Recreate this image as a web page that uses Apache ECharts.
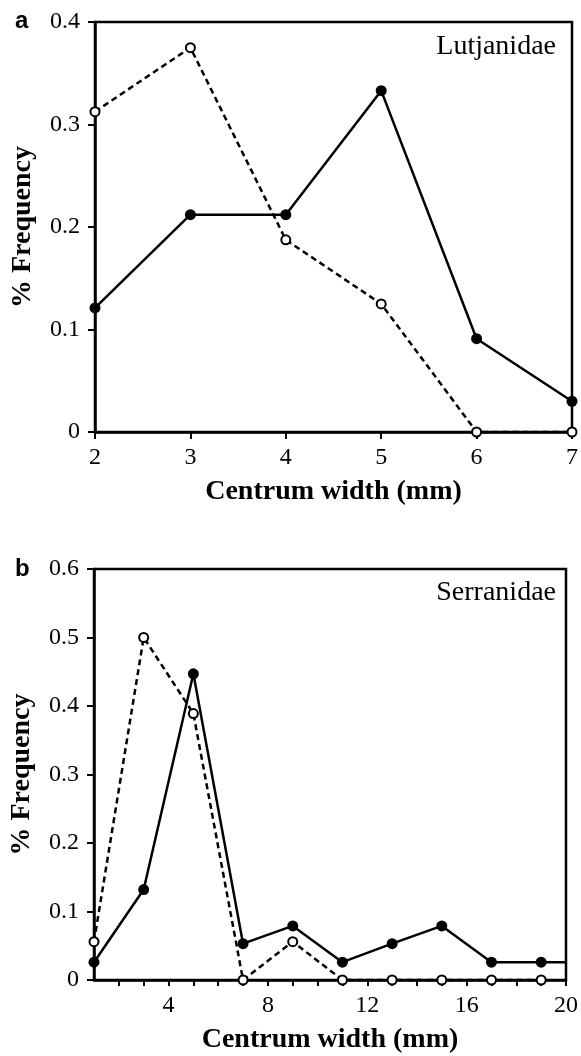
<!DOCTYPE html>
<html>
<head>
<meta charset="utf-8">
<script src="https://cdn.jsdelivr.net/npm/echarts@6/dist/echarts.min.js"></script>
<style>
  html, body { margin: 0; padding: 0; background: #fff; }
  #chart { width: 581px; height: 1056px; }
</style>
</head>
<body>
<div id="chart"></div>
<script>
// panel a - Lutjanidae
const lutWidth = [2, 3, 4, 5, 6, 7];
const lutSolid = [0.121, 0.212, 0.212, 0.333, 0.091, 0.030];
const lutDashed = [0.3125, 0.375, 0.1875, 0.125, 0, 0];

// panel b - Serranidae
const serWidth = [1, 3, 5, 7, 9, 11, 13, 15, 17, 19];
const serSolid = [0.026, 0.132, 0.447, 0.053, 0.079, 0.026, 0.053, 0.079, 0.026, 0.026];
const serDashed = [0.056, 0.5, 0.389, 0, 0.056, 0, 0, 0, 0, 0];
// solid line carries on flat to the end of the axis
const serSolidEnd = [20, 0.026];

const serXTicks = [4, 8, 12, 16, 20];

const serif = '"Liberation Serif", "DejaVu Serif", serif';

const pairs = (xs, ys) => xs.map((x, i) => [x, ys[i]]);

const chart = echarts.init(document.getElementById('chart'));

const axisLine = { lineStyle: { color: '#000', width: 2.5 } };
const axisTick = { inside: false, length: 7, lineStyle: { color: '#000', width: 2 } };
const tickLabel = { color: '#000', fontFamily: serif, fontSize: 24 };
const nameStyle = { color: '#000', fontFamily: serif, fontSize: 28, fontWeight: 'bold' };

const solidSeries = (name, axis, data) => ({
  name: name,
  type: 'line',
  xAxisIndex: axis,
  yAxisIndex: axis,
  data: data,
  symbol: 'circle',
  symbolSize: (v) => (v[0] === 20 ? 0 : 11),
  clip: false,
  lineStyle: { color: '#000', width: 2.5 },
  itemStyle: { color: '#000' },
  z: 3
});

const dashedSeries = (name, axis, data) => ({
  name: name,
  type: 'line',
  xAxisIndex: axis,
  yAxisIndex: axis,
  data: data,
  symbol: 'emptyCircle',
  symbolSize: 9,
  clip: false,
  lineStyle: { color: '#000', width: 2.5, type: [6, 4] },
  itemStyle: { color: '#000', borderColor: '#000', borderWidth: 1.3 },
  z: 4
});

const option = {
  backgroundColor: '#fff',
  animation: false,
  title: [
    { text: 'a', left: 10, top: 4, textStyle: { fontFamily: '"Liberation Sans", Arial, sans-serif', fontSize: 24, fontWeight: 'bold', color: '#000' } },
    { text: 'b', left: 10, top: 552, textStyle: { fontFamily: '"Liberation Sans", Arial, sans-serif', fontSize: 24, fontWeight: 'bold', color: '#000' } },
    { text: 'Lutjanidae', right: 20, top: 28, textStyle: { fontFamily: serif, fontSize: 28, fontWeight: 'normal', color: '#000' } },
    { text: 'Serranidae', right: 20, top: 574, textStyle: { fontFamily: serif, fontSize: 28, fontWeight: 'normal', color: '#000' } }
  ],
  grid: [
    { left: 95, right: 6, top: 22, height: 410, show: true, borderColor: '#000', borderWidth: 2.5 },
    { left: 94, right: 6, top: 569, height: 411, show: true, borderColor: '#000', borderWidth: 2.5 }
  ],
  xAxis: [
    {
      gridIndex: 0, type: 'value', min: 2, max: 7, interval: 1,
      name: 'Centrum width (mm)', nameLocation: 'middle', nameGap: 46, nameTextStyle: nameStyle,
      axisLine: axisLine, axisTick: axisTick, splitLine: { show: false },
      axisLabel: Object.assign({ margin: 14 }, tickLabel)
    },
    {
      gridIndex: 1, type: 'value', min: 1, max: 20, interval: 1,
      name: 'Centrum width (mm)', nameLocation: 'middle', nameGap: 46, nameTextStyle: nameStyle,
      axisLine: axisLine, axisTick: Object.assign({}, axisTick, { length: 6 }), splitLine: { show: false },
      axisLabel: Object.assign({
        margin: 14,
        showMinLabel: false,
        formatter: (v) => (serXTicks.includes(v) ? String(v) : '')
      }, tickLabel)
    }
  ],
  yAxis: [
    {
      gridIndex: 0, type: 'value', min: 0, max: 0.4, interval: 0.1,
      name: '% Frequency', nameLocation: 'middle', nameGap: 58, nameTextStyle: nameStyle,
      axisLine: axisLine, axisTick: axisTick, splitLine: { show: false },
      axisLabel: Object.assign({ margin: 15 }, tickLabel)
    },
    {
      gridIndex: 1, type: 'value', min: 0, max: 0.6, interval: 0.1,
      name: '% Frequency', nameLocation: 'middle', nameGap: 58, nameTextStyle: nameStyle,
      axisLine: axisLine, axisTick: axisTick, splitLine: { show: false },
      axisLabel: Object.assign({ margin: 15 }, tickLabel)
    }
  ],
  series: [
    dashedSeries('Lutjanidae open', 0, pairs(lutWidth, lutDashed)),
    solidSeries('Lutjanidae filled', 0, pairs(lutWidth, lutSolid)),
    dashedSeries('Serranidae open', 1, pairs(serWidth, serDashed)),
    solidSeries('Serranidae filled', 1, pairs(serWidth, serSolid).concat([serSolidEnd]))
  ]
};

chart.setOption(option);
</script>
</body>
</html>
